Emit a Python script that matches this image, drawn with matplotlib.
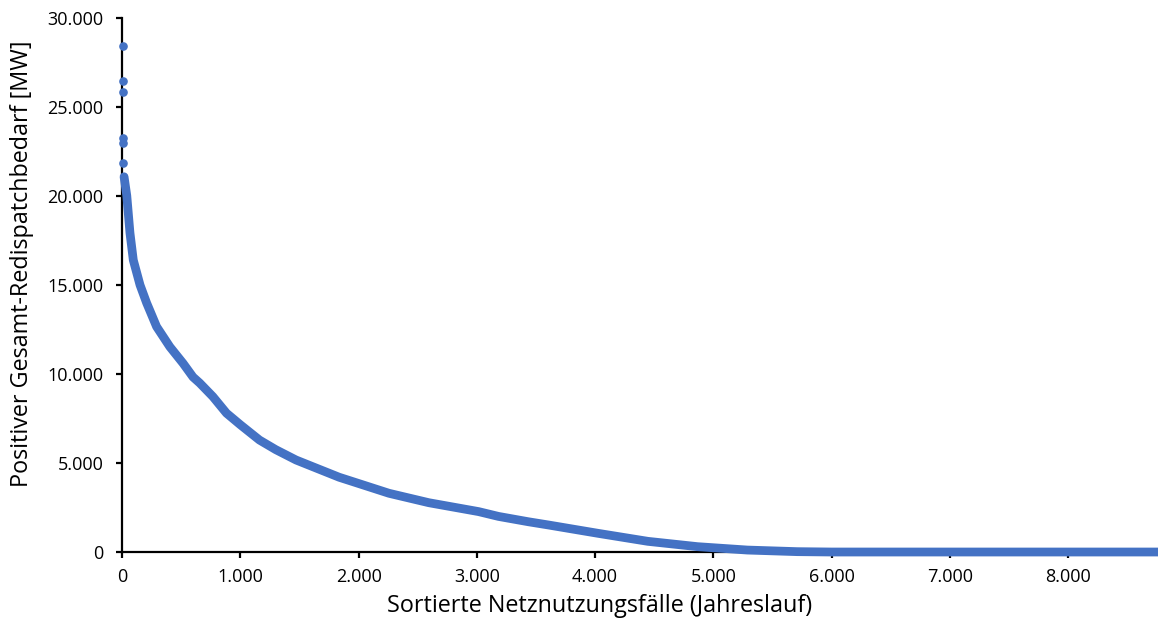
import numpy as np
import matplotlib.pyplot as plt
from matplotlib.ticker import FuncFormatter

# isolated peak hours at the very start of the duration curve
peak_hours = [5, 5, 5, 5, 6, 6]
peak_mw = [28440, 26440, 25840, 23240, 22960, 21870]

# sorted duration curve
hours = [17, 40, 67, 95, 152, 208, 292, 404, 516, 600, 657, 768, 883,
         1000, 1162, 1300, 1471, 1610, 1836, 2000, 2257, 2594, 3015,
         3183, 3436, 3604, 4025, 4446, 4867, 5288, 5710, 6000, 7000,
         8000, 8760]
redispatch_mw = [21080, 20020, 17920, 16400, 15000, 13990, 12660, 11530,
                 10600, 9830, 9490, 8730, 7800, 7150, 6290, 5750, 5170,
                 4800, 4200, 3850, 3300, 2770, 2270, 2000, 1700, 1520,
                 1050, 600, 300, 110, 20, 0, 0, 0, 0]

x_ticks = [0, 1000, 2000, 3000, 4000, 5000, 6000, 7000, 8000]
y_ticks = [0, 5000, 10000, 15000, 20000, 25000, 30000]

blue = '#4472C4'

plt.rcParams['font.family'] = ['Open Sans', 'DejaVu Sans']

fig = plt.figure(figsize=(11.58, 6.27), dpi=100)
ax = fig.add_axes([0.1054, 0.1196, 0.8946, 0.8517])

ax.plot(hours, redispatch_mw, color=blue, lw=6.3,
        solid_capstyle='round', solid_joinstyle='round',
        clip_on=False, zorder=5)
ax.plot(peak_hours, peak_mw, 'o', color=blue, ms=5.2, clip_on=False, zorder=5)

ax.set_xlim(0, 8760)
ax.set_ylim(0, 30000)
ax.set_xticks(x_ticks)
ax.set_yticks(y_ticks)

de_fmt = FuncFormatter(lambda v, p: f'{int(v):,}'.replace(',', '.'))
ax.xaxis.set_major_formatter(de_fmt)
ax.yaxis.set_major_formatter(de_fmt)

for side in ['top', 'right']:
    ax.spines[side].set_visible(False)
for side in ['left', 'bottom']:
    ax.spines[side].set_linewidth(1.6)
    ax.spines[side].set_zorder(3)

ax.tick_params(axis='both', direction='out', length=4.5, width=1.6,
               labelsize=13, colors='black')
ax.tick_params(axis='x', pad=7)
ax.tick_params(axis='y', pad=9)

ax.set_xlabel('Sortierte Netznutzungsfälle (Jahreslauf)', fontsize=16.8,
              va='baseline')
ax.xaxis.set_label_coords(0.461, -0.113)
ax.set_ylabel('Positiver Gesamt-Redispatchbedarf [MW]', fontsize=16.8,
              va='baseline')
ax.yaxis.set_label_coords(-0.0905, 0.539)

fig.savefig('out.png', dpi=100)
plt.close()
